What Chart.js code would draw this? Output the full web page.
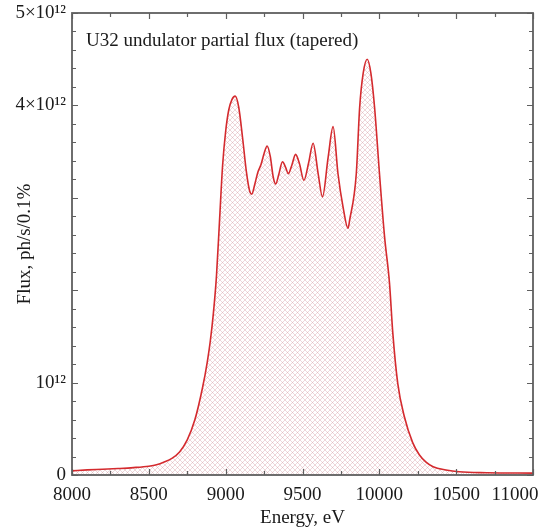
<!DOCTYPE html>
<html>
<head>
<meta charset="utf-8">
<script src="https://cdn.jsdelivr.net/npm/chart.js@4.4.1/dist/chart.umd.min.js"></script>
<style>
html,body{margin:0;padding:0;background:#fff;}
#wrap{width:542px;height:529px;position:relative;}
</style>
</head>
<body>
<div id="wrap"><canvas id="c" width="542" height="529"></canvas></div>
<script>
// Photon energy (eV)
const energy = [8000,8100,8200,8300,8400,8500,8550,8600,8650,8700,8750,8800,8850,8880,8900,8920,8940,8960,8980,9000,9020,9040,9062,9085,9110,9135,9155,9170,9190,9210,9230,9250,9270,9290,9310,9326,9345,9370,9390,9408,9430,9455,9480,9509,9540,9569,9602,9630,9667,9699,9731,9764,9796,9807,9850,9872,9895,9921,9945,9969,10001,10034,10066,10088,10120,10163,10217,10260,10304,10350,10433,10520,10700,11000];
// Partial flux, units of 10^12 ph/s/0.1%
const flux = [0.045,0.055,0.062,0.07,0.08,0.095,0.11,0.14,0.18,0.25,0.38,0.60,0.95,1.22,1.45,1.75,2.15,2.75,3.35,3.72,3.95,4.06,4.10,3.98,3.65,3.28,3.08,3.04,3.15,3.28,3.36,3.48,3.56,3.45,3.22,3.15,3.25,3.39,3.33,3.26,3.35,3.47,3.37,3.19,3.38,3.59,3.26,3.01,3.44,3.77,3.26,2.90,2.67,2.76,3.26,3.98,4.35,4.50,4.35,3.98,3.26,2.58,2.08,1.53,0.99,0.63,0.35,0.22,0.14,0.09,0.055,0.035,0.025,0.02];
// Tick labels
const xTickLabels = {8000:'8000',8500:'8500',9000:'9000',9500:'9500',10000:'10000',10500:'10500',11000:'11000'};
const yTickLabels = {0:'0',1:'10\u00B9\u00B2',4:'4\u00D710\u00B9\u00B2',5:'5\u00D710\u00B9\u00B2'};
const titleText = 'U32 undulator partial flux (tapered)';
const xTitle = 'Energy, eV';
const yTitle = 'Flux, ph/s/0.1%';

const FONT = "'Liberation Serif','Times New Roman',serif";

// crosshatch pattern
const T = 5;
const pc = document.createElement('canvas'); pc.width = T; pc.height = T;
const pctx = pc.getContext('2d');
pctx.strokeStyle = 'rgba(205,135,145,0.42)';
pctx.lineWidth = 0.8;
pctx.beginPath();
pctx.moveTo(0,0); pctx.lineTo(T,T);
pctx.moveTo(T,0); pctx.lineTo(0,T);
pctx.stroke();
const pattern = pctx.createPattern(pc, 'repeat');

const framePlugin = {
  id: 'frame',
  beforeDraw(chart) {
    const ctx = chart.ctx;
    ctx.save(); ctx.fillStyle = '#fff'; ctx.fillRect(0,0,chart.width,chart.height); ctx.restore();
  },
  afterDraw(chart) {
    const ctx = chart.ctx, a = chart.chartArea, xs = chart.scales.x, ys = chart.scales.y;
    ctx.save();
    ctx.strokeStyle = '#5f5f5f';
    ctx.beginPath();
    for (let v = 8000; v <= 11000; v += 250) {
      const px = Math.round(xs.getPixelForValue(v)) + 0.5;
      const L = (v % 500 === 0) ? 6 : 4;
      ctx.moveTo(px, a.bottom); ctx.lineTo(px, a.bottom - L);
      ctx.moveTo(px, a.top); ctx.lineTo(px, a.top + L);
    }
    for (let i = 0; i <= 25; i++) {
      const v = i * 0.2;
      const py = Math.round(ys.getPixelForValue(v)) + 0.5;
      const L = (i % 5 === 0) ? 6 : 4;
      ctx.moveTo(a.left, py); ctx.lineTo(a.left + L, py);
      ctx.moveTo(a.right, py); ctx.lineTo(a.right - L, py);
    }
    ctx.lineWidth = 1.2;
    ctx.stroke();
    ctx.lineWidth = 1.8;
    ctx.strokeRect(a.left, a.top, a.right - a.left, a.bottom - a.top);
    ctx.fillStyle = '#1a1a1a';
    ctx.font = "19px " + FONT;
    ctx.textBaseline = 'middle';
    ctx.textAlign = 'left';
    ctx.fillText(titleText, a.left + 14, a.top + 28);
    ctx.textAlign = 'center';
    ctx.fillText(xTickLabels[11000], 515, a.bottom + 20);
    ctx.restore();
  }
};

new Chart(document.getElementById('c'), {
  type: 'line',
  data: {
    datasets: [{
      data: energy.map((e, i) => ({x: e, y: flux[i]})),
      borderColor: '#d42a2e',
      borderWidth: 1.6,
      backgroundColor: pattern,
      fill: 'origin',
      pointRadius: 0,
      cubicInterpolationMode: 'monotone'
    }]
  },
  options: {
    responsive: false,
    animation: false,
    layout: {padding: {top: 13, right: 9, left: 0, bottom: 0}},
    plugins: {legend: {display: false}, tooltip: {enabled: false}},
    scales: {
      x: {
        type: 'linear', min: 8000, max: 11000,
        afterFit(s) { s.height = 54; s.paddingLeft = 0; s.paddingRight = 0; },
        grid: {display: false, drawTicks: false},
        border: {display: false},
        ticks: {
          stepSize: 500, padding: 9, color: '#1a1a1a', maxRotation: 0, autoSkip: false,
          font: {family: FONT, size: 19},
          callback: v => (v === 11000 ? '' : (xTickLabels[v] || ''))
        },
        title: {display: true, text: xTitle, color: '#1a1a1a', font: {family: FONT, size: 19}, padding: {top: 0, bottom: 0}}
      },
      y: {
        type: 'linear', min: 0, max: 5,
        afterFit(s) { s.width = 72; s.paddingTop = 0; s.paddingBottom = 0; },
        grid: {display: false, drawTicks: false},
        border: {display: false},
        ticks: {
          stepSize: 1, padding: 6, color: '#1a1a1a', autoSkip: false,
          font: {family: FONT, size: 19},
          callback: v => (yTickLabels[v] !== undefined ? yTickLabels[v] : '')
        },
        title: {display: true, text: yTitle, color: '#1a1a1a', font: {family: FONT, size: 19}, padding: {top: 14, bottom: 0}}
      }
    }
  },
  plugins: [framePlugin]
});
</script>
</body>
</html>
